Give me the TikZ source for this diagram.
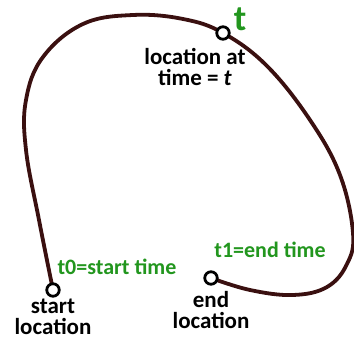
\documentclass[tikz,border=0pt]{standalone}
\usepackage{fontspec}
\setmainfont{Carlito}
\usetikzlibrary{positioning}
\definecolor{pathbrown}{RGB}{58,16,16}
\definecolor{labelgreen}{RGB}{34,150,30}

\begin{document}
\begin{tikzpicture}[
    x=1pt, y=-1pt,
    spot/.style={circle, draw=black, fill=white, line width=2.8pt,
                 inner sep=0pt, minimum size=12.5pt},
    label/.style={font=\fontsize{23}{21}\selectfont\bfseries, align=center,
                  inner sep=0pt},
    timelabel/.style={label, text=labelgreen,
                      font=\fontsize{22}{22}\selectfont\bfseries},
    route/.style={draw=pathbrown, line width=3.8pt, line cap=round}
]
\useasboundingbox (0,0) rectangle (354,339);

% points on the route
\coordinate (p0) at (53,290);
\coordinate (pt) at (223,33);
\coordinate (p1) at (211,278);

\draw[route] plot[smooth, tension=0.65] coordinates {
    (p0) (39,220) (26,150) (26,100) (43,57) (83,24) (133,15) (183,19)
    (pt) (267,66) (310,120) (340,175) (353,233) (347,264) (327,287)
    (293,295) (250,290) (p1)};

\node[spot] (start)  at (p0) {};
\node[spot] (now)    at (pt) {};
\node[spot] (finish) at (p1) {};

\node[label, below=1pt of start]  (startlbl)  {start\\location};
\node[label, below=6pt of finish] (finishlbl) {end\\location};
\node[label, below=7pt of now, xshift=-28pt] (nowlbl) {location at\\time = \textit{t}};

\node[timelabel, font=\fontsize{36}{36}\selectfont\bfseries] (tsym) at (240,19) {t};
\node[timelabel] (t0lbl) at (117,267) {t0=start time};
\node[timelabel] (t1lbl) at (270,250) {t1=end time};
\end{tikzpicture}
\end{document}
